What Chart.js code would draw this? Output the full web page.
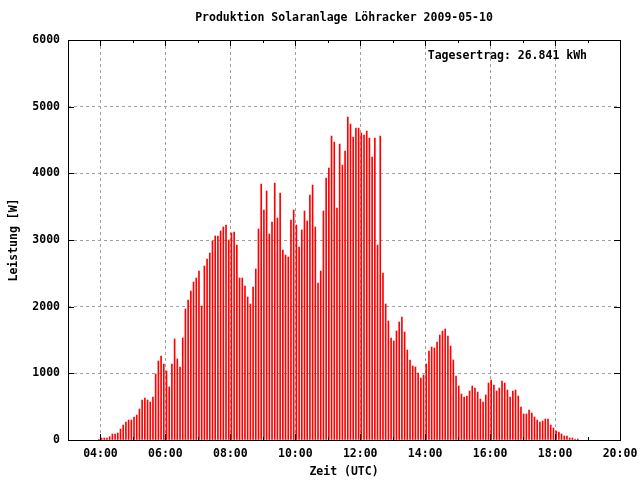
<!DOCTYPE html>
<html lang="de">
<head>
    <meta charset="UTF-8">
    <title>Produktion Solaranlage Löhracker 2009-05-10</title>
    <script src="https://cdn.jsdelivr.net/npm/chart.js"></script>
    <style>
        body { margin: 0; background: #fff; }
    </style>
</head>
<body>
    <canvas id="solarChart" width="640" height="480"></canvas>

    <script>
        // Messwerte alle 5 Minuten, erster Wert ca. 03:57 UTC
        const startHour = 3.95;
        const stepHours = 5 / 60;
        const watts = [
            10, 30, 30, 30, 50, 90, 90, 105, 165, 225,
            270, 300, 300, 345, 375, 465, 600, 630, 600, 570,
            645, 990, 1185, 1260, 1140, 1035, 795, 1140, 1515, 1215,
            1095, 1530, 1965, 2100, 2235, 2370, 2430, 2535, 2010, 2610,
            2715, 2805, 2985, 3060, 3060, 3135, 3195, 3225, 3000, 3105,
            3120, 2925, 2430, 2430, 2310, 2145, 2040, 2295, 2565, 3165,
            3840, 3450, 3735, 3090, 3270, 3855, 3330, 3705, 2850, 2775,
            2745, 3300, 3450, 3225, 2895, 3150, 3435, 3285, 3675, 3825,
            3195, 2355, 2535, 3435, 3930, 4080, 4560, 4470, 3480, 4440,
            4125, 4335, 4845, 4740, 4545, 4680, 4680, 4605, 4575, 4635,
            4530, 4245, 4530, 2925, 4560, 2505, 2040, 1785, 1530, 1485,
            1635, 1770, 1845, 1620, 1350, 1200, 1110, 1095, 1005, 930,
            975, 1140, 1335, 1395, 1380, 1470, 1575, 1635, 1665, 1560,
            1410, 1200, 960, 810, 690, 645, 660, 735, 810, 780,
            720, 615, 570, 675, 855, 900, 825, 735, 780, 885,
            855, 750, 645, 735, 750, 660, 495, 390, 390, 450,
            405, 345, 300, 270, 285, 315, 315, 225, 180, 135,
            120, 90, 60, 60, 30, 30, 15, 15
        ];
        const xTickHours = [4, 6, 8, 10, 12, 14, 16, 18, 20];
        const yTickValues = [0, 1000, 2000, 3000, 4000, 5000, 6000];

        const titleText = 'Produktion Solaranlage Löhracker 2009-05-10';
        const yieldText = 'Tagesertrag: 26.841 kWh';
        const xTitle = 'Zeit (UTC)';
        const yTitle = 'Leistung [W]';

        const FONT = "bold 11.5px 'DejaVu Sans Mono'";

        const points = watts.map((w, i) => ({ x: startHour + i * stepHours, y: w }));

        function hourLabel(h) {
            return String(h).padStart(2, '0') + ':00';
        }

        // Rahmen, Tics nach innen (wie gnuplot) und Beschriftungen
        const gnuplotLook = {
            id: 'gnuplotLook',
            afterDatasetsDraw(chart) {
                const ctx = chart.ctx;
                const { left, right, top, bottom } = chart.chartArea;
                const xs = chart.scales.x;
                const ys = chart.scales.y;
                ctx.save();
                ctx.strokeStyle = '#000';
                ctx.lineWidth = 1;
                ctx.beginPath();
                for (let h = 3; h <= 20; h++) {
                    const px = Math.round(xs.getPixelForValue(h)) + 0.5;
                    const len = h % 2 === 0 ? 6 : 3;
                    ctx.moveTo(px, bottom); ctx.lineTo(px, bottom - len);
                    ctx.moveTo(px, top); ctx.lineTo(px, top + len);
                }
                yTickValues.forEach(v => {
                    const py = Math.round(ys.getPixelForValue(v)) + 0.5;
                    ctx.moveTo(left, py); ctx.lineTo(left + 6, py);
                    ctx.moveTo(right, py); ctx.lineTo(right - 6, py);
                });
                ctx.stroke();
                ctx.strokeRect(Math.round(left) + 0.5, Math.round(top) + 0.5,
                    Math.round(right - left), Math.round(bottom - top));
                ctx.restore();
            },
            afterDraw(chart) {
                const ctx = chart.ctx;
                const { left, right, top, bottom } = chart.chartArea;
                const cx = (left + right) / 2;
                ctx.save();
                ctx.fillStyle = '#000';
                ctx.font = FONT;
                ctx.textBaseline = 'middle';
                ctx.textAlign = 'center';
                ctx.fillText(titleText, cx, 18);
                ctx.fillText(xTitle, cx, 472);
                ctx.textAlign = 'right';
                ctx.fillText(yieldText, right - 33, 56);
                ctx.translate(14, (top + bottom) / 2);
                ctx.rotate(-Math.PI / 2);
                ctx.textAlign = 'center';
                ctx.fillText(yTitle, 0, 0);
                ctx.restore();
            }
        };

        const ctx = document.getElementById('solarChart').getContext('2d');
        const chart = new Chart(ctx, {
            type: 'bar',
            data: {
                datasets: [{
                    label: 'Leistung',
                    data: points,
                    backgroundColor: '#ff0000',
                    borderWidth: 0,
                    barThickness: 1
                }]
            },
            options: {
                responsive: false,
                animation: false,
                layout: { padding: { top: 40, right: 20, left: 0, bottom: 0 } },
                plugins: {
                    legend: { display: false },
                    title: { display: false },
                    tooltip: { enabled: false }
                },
                scales: {
                    x: {
                        type: 'linear',
                        offset: false,
                        min: 3,
                        max: 20,
                        afterBuildTicks: (scale) => {
                            scale.ticks = xTickHours.map(h => ({ value: h }));
                        },
                        afterFit: (scale) => {
                            scale.height = 40;
                            scale.paddingLeft = 0;
                            scale.paddingRight = 0;
                        },
                        grid: { color: '#a0a0a0', lineWidth: 1, drawTicks: false, offset: false },
                        border: { display: false, dash: [3, 3] },
                        ticks: {
                            color: '#000',
                            font: { family: 'DejaVu Sans Mono', size: 11.5, weight: 'bold' },
                            padding: 7,
                            maxRotation: 0,
                            autoSkip: false,
                            callback: (v) => hourLabel(v)
                        }
                    },
                    y: {
                        min: 0,
                        max: 6000,
                        afterBuildTicks: (scale) => {
                            scale.ticks = yTickValues.map(v => ({ value: v }));
                        },
                        afterFit: (scale) => {
                            scale.width = 68;
                            scale.paddingTop = 0;
                            scale.paddingBottom = 0;
                        },
                        grid: { color: '#a0a0a0', lineWidth: 1, drawTicks: false },
                        border: { display: false, dash: [3, 3] },
                        ticks: {
                            color: '#000',
                            font: { family: 'DejaVu Sans Mono', size: 11.5, weight: 'bold' },
                            padding: 8,
                            callback: (v) => String(v)
                        }
                    }
                }
            },
            plugins: [gnuplotLook]
        });
    </script>
</body>
</html>
